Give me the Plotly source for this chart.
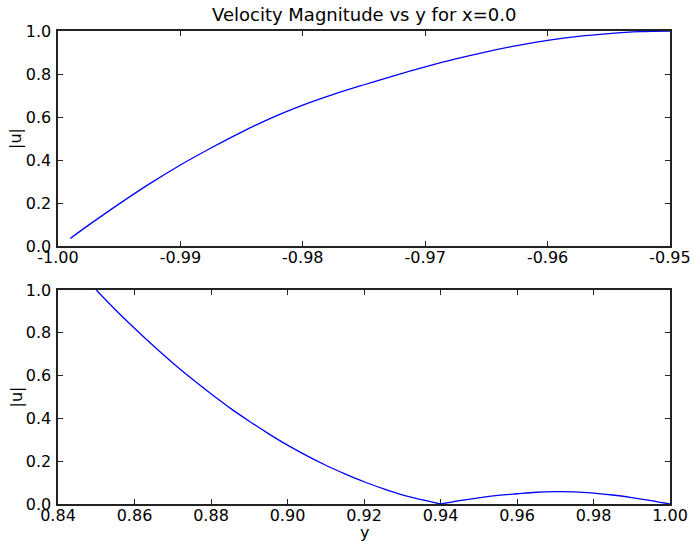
import plotly.graph_objects as go

# ---- data ----
top_y = [-0.999, -0.9975, -0.995, -0.9925, -0.99, -0.9875, -0.985, -0.9825, -0.98,
         -0.9775, -0.975, -0.9725, -0.97, -0.9675, -0.965, -0.9625, -0.96, -0.9575,
         -0.955, -0.9525, -0.95]
top_u = [0.035, 0.097, 0.196, 0.29, 0.377, 0.456, 0.53, 0.597, 0.655,
         0.705, 0.75, 0.793, 0.833, 0.87, 0.903, 0.932, 0.956, 0.975,
         0.988, 0.997, 1.0]

# falling branch (0.85 -> 0.94) and small bump (0.94 -> 1.00)
bot_y_a = [0.85, 0.855, 0.86, 0.865, 0.87, 0.875, 0.88, 0.885, 0.89, 0.895, 0.90,
           0.905, 0.91, 0.915, 0.92, 0.925, 0.93, 0.935, 0.94]
bot_u_a = [1.0, 0.908, 0.821, 0.738, 0.659, 0.585, 0.515, 0.448, 0.387, 0.329, 0.275,
           0.226, 0.181, 0.141, 0.104, 0.072, 0.043, 0.020, 0.0]
bot_y_b = [0.94, 0.945, 0.95, 0.955, 0.96, 0.965, 0.97, 0.975, 0.98, 0.985, 0.99, 0.995, 1.0]
bot_u_b = [0.0, 0.016, 0.029, 0.040, 0.048, 0.055, 0.058, 0.057, 0.051, 0.042, 0.030, 0.016, 0.0]

top_xticks = [-1.00, -0.99, -0.98, -0.97, -0.96, -0.95]
top_xtick_text = ["-1.00", "-0.99", "-0.98", "-0.97", "-0.96", "-0.95"]
bot_xticks = [0.84, 0.86, 0.88, 0.90, 0.92, 0.94, 0.96, 0.98, 1.00]
bot_xtick_text = ["0.84", "0.86", "0.88", "0.90", "0.92", "0.94", "0.96", "0.98", "1.00"]
uticks = [0.0, 0.2, 0.4, 0.6, 0.8, 1.0]
utick_text = ["0.0", "0.2", "0.4", "0.6", "0.8", "1.0"]

title_text = "Velocity Magnitude vs y for x=0.0"
ylabel = "|u|"
xlabel = "y"

FONT = "DejaVu Sans"
W, H = 694, 541
ML, MR, MT, MB = 58, 24, 31, 37
PW = W - ML - MR
PH = H - MT - MB

line_style = dict(color="#0000ff", width=1.3, shape="spline", smoothing=1.0)

fig = go.Figure()
fig.add_trace(go.Scatter(x=top_y, y=top_u, mode="lines", xaxis="x", yaxis="y",
                         line=line_style, showlegend=False))
fig.add_trace(go.Scatter(x=bot_y_a, y=bot_u_a, mode="lines", xaxis="x2", yaxis="y2",
                         line=line_style, showlegend=False))
fig.add_trace(go.Scatter(x=bot_y_b, y=bot_u_b, mode="lines", xaxis="x2", yaxis="y2",
                         line=line_style, showlegend=False))

axcommon = dict(showgrid=False, zeroline=False, showline=True, linecolor="#222222",
                linewidth=1.6, mirror="allticks", ticks="inside", ticklen=5,
                tickcolor="#222222", tickwidth=1, automargin=False,
                tickfont=dict(family=FONT, size=16, color="#000000"))

top_dom = [(504 - 246) / PH, 1.0]
bot_dom = [0.0, (504 - 290) / PH]

fig.update_layout(
    width=W, height=H, autosize=False,
    margin=dict(l=ML, r=MR, t=MT, b=MB, autoexpand=False),
    paper_bgcolor="white", plot_bgcolor="white",
    font=dict(family=FONT, color="#000000"),
    xaxis=dict(range=[-1.0, -0.95], tickvals=top_xticks, ticktext=top_xtick_text,
               anchor="y", ticklabelstandoff=-4, **axcommon),
    yaxis=dict(range=[0.0, 1.0], tickvals=uticks, ticktext=utick_text,
               domain=top_dom, anchor="x", ticklabelstandoff=2, **axcommon),
    xaxis2=dict(range=[0.84, 1.0], tickvals=bot_xticks, ticktext=bot_xtick_text,
                anchor="y2", ticklabelstandoff=-4, **axcommon),
    yaxis2=dict(range=[0.0, 1.0], tickvals=uticks, ticktext=utick_text,
                domain=bot_dom, anchor="x2", ticklabelstandoff=2, **axcommon),
    annotations=[
        dict(text=title_text, xref="paper", yref="paper", x=0.5, y=1.0,
             xanchor="center", yanchor="bottom", yshift=4, showarrow=False,
             font=dict(family=FONT, size=18, color="#000000")),
        dict(text=ylabel, xref="paper", yref="paper", x=(15.5 - ML) / PW,
             y=(top_dom[0] + top_dom[1]) / 2, xanchor="center", yanchor="middle",
             textangle=-90, showarrow=False,
             font=dict(family=FONT, size=16, color="#000000")),
        dict(text=ylabel, xref="paper", yref="paper", x=(15.5 - ML) / PW,
             y=(bot_dom[0] + bot_dom[1]) / 2, xanchor="center", yanchor="middle",
             textangle=-90, showarrow=False,
             font=dict(family=FONT, size=16, color="#000000")),
        dict(text=xlabel, xref="paper", yref="paper", x=0.5, y=0.0,
             xanchor="center", yanchor="middle", yshift=-(532 - 504), showarrow=False,
             font=dict(family=FONT, size=16, color="#000000")),
    ],
)

fig.write_html(
    "out.html",
    config={"displayModeBar": False, "staticPlot": True},
    post_script="document.documentElement.style.margin='0';"
                "document.documentElement.style.padding='0';"
                "document.documentElement.style.overflow='hidden';"
                "document.body.style.margin='0';"
                "document.body.style.padding='0';"
                "document.body.style.overflow='hidden';",
)
